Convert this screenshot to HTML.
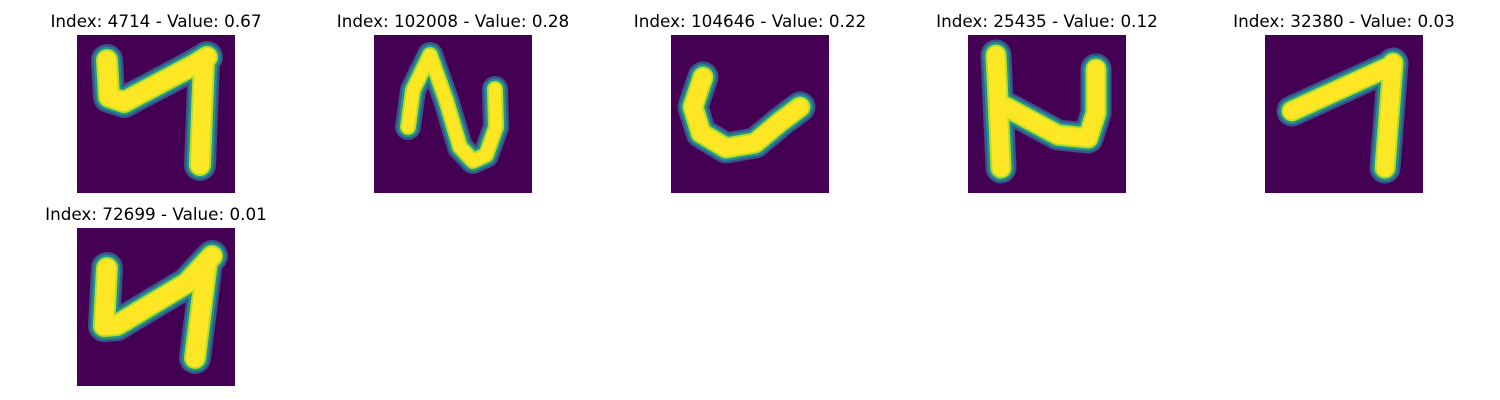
<!DOCTYPE html>
<html><head><meta charset="utf-8"><style>
body{margin:0;background:#fff;width:1500px;height:400px;overflow:hidden}
svg{display:block}
text{font-family:"DejaVu Sans","Liberation Sans",sans-serif;font-size:16.8px;fill:#000}
</style></head><body>
<svg id="fig" width="1500" height="400"></svg>
<script>
const indices=[4714,102008,104646,25435,32380,72699];
const values=[0.67,0.28,0.22,0.12,0.03,0.01];
const strokes=[
 [[[30,25],[32,62],[47,67],[117,30],[130,22]],[[127,25],[123,130]]],
 [[[34,92],[39,55],[56,20],[72,65],[86,112],[99,126],[112,120],[122,92],[121,54]]],
 [[[32,42],[22,72],[30,98],[55,113],[84,108],[109,87],[129,72]]],
 [[[28,20],[33,133]],[[38,72],[90,100],[120,103],[128,78],[128,34]]],
 [[[27,76],[128,30]],[[128,28],[120,133]]],
 [[[30,40],[27,98],[40,97],[110,55],[135,28]],[[130,34],[118,130]]]
];
const widths=[20,14,19,19,19,20];
const colX=[77,374,671,968,1265], rowY=[35,228], S=158;
const svg=document.getElementById('fig');
const NS='http://www.w3.org/2000/svg';
const defs=document.createElementNS(NS,'defs');
svg.appendChild(defs);
for(let i=0;i<indices.length;i++){
 const x0=colX[i%5], y0=rowY[Math.floor(i/5)];
 const cp=document.createElementNS(NS,'clipPath');
 cp.setAttribute('id','clip'+i);
 const cr=document.createElementNS(NS,'rect');
 cr.setAttribute('x',x0);cr.setAttribute('y',y0);cr.setAttribute('width',S);cr.setAttribute('height',S);
 cp.appendChild(cr);defs.appendChild(cp);
 const g=document.createElementNS(NS,'g');
 
 
 const t=document.createElementNS(NS,'text');
 t.setAttribute('x',x0+S/2);t.setAttribute('y',y0-8);t.setAttribute('text-anchor','middle');
 t.textContent='Index: '+indices[i]+' - Value: '+values[i].toFixed(2);
 
 
 g.appendChild(t);
 const r=document.createElementNS(NS,'rect');
 r.setAttribute('x',x0);r.setAttribute('y',y0);r.setAttribute('width',S);r.setAttribute('height',S);r.setAttribute('fill','#440154');
 
 
 g.appendChild(r);
 const sg=document.createElementNS(NS,'g');
 sg.setAttribute('clip-path','url(#clip'+i+')');
 
 
 const layers=[['#3b528b',widths[i]+12],['#21918c',widths[i]+7],['#b5de2b',widths[i]+2],['#fde725',widths[i]-2]];
 layers.forEach(([c,w])=>{
  strokes[i].forEach(pl=>{
   const p=document.createElementNS(NS,'polyline');
   p.setAttribute('points',pl.map(q=>(x0+q[0])+','+(y0+q[1])).join(' '));
   p.setAttribute('fill','none');p.setAttribute('stroke',c);p.setAttribute('stroke-width',w);
   p.setAttribute('stroke-linecap','round');p.setAttribute('stroke-linejoin','round');
   
   
   sg.appendChild(p);
  });
 });
 g.appendChild(sg);
 svg.appendChild(g);
}
</script>
</body></html>
